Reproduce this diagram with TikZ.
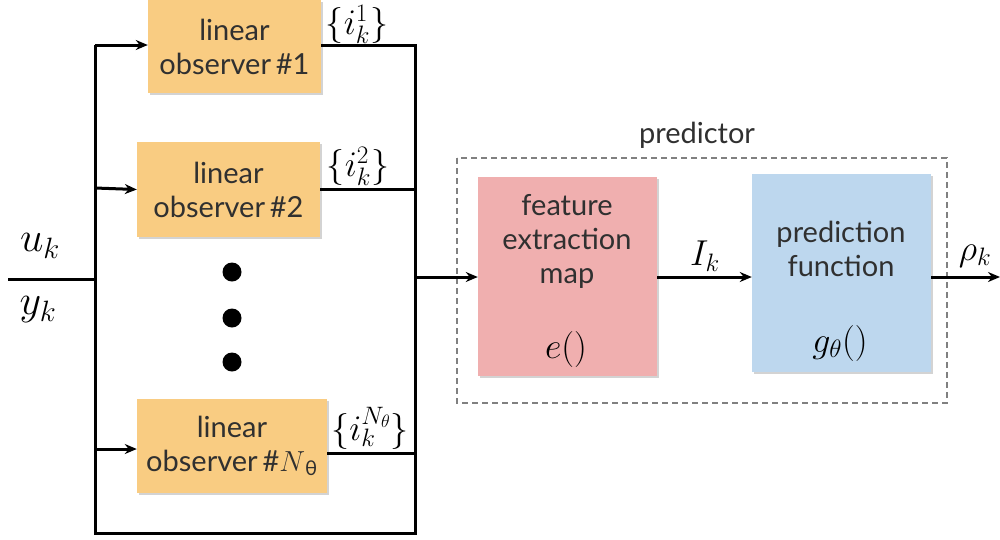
\documentclass[tikz,border=0pt]{standalone}
\usepackage{fix-cm}
\usepackage{fontspec}
\setmainfont{Lato}
\usetikzlibrary{arrows.meta,shadows}
\definecolor{obsfill}{HTML}{F9CC82}
\definecolor{featfill}{HTML}{F0AFAF}
\definecolor{predfill}{HTML}{BDD7EE}
\definecolor{txt}{HTML}{303030}
\begin{document}
\begin{tikzpicture}[x=1pt,y=-1pt,
  block/.style={draw=none,inner sep=0pt,drop shadow={opacity=0.35,shadow xshift=2pt,shadow yshift=-2pt}},
  btext/.style={text=txt,font=\fontsize{29}{34}\selectfont,align=center},
  mlabel/.style={font=\fontsize{36}{40}\selectfont,inner sep=0pt},
  biglabel/.style={font=\fontsize{42}{46}\selectfont},
  wire/.style={line width=3pt},
  arr/.style={line width=3pt,-{Stealth[length=12pt,width=10pt]}},
  dotc/.style={circle,fill=black,inner sep=0pt,minimum size=19pt}]
\useasboundingbox (0,0) rectangle (1000,539);
% observers
\node[block,fill=obsfill,minimum width=173pt,minimum height=93pt] (o1) at (234.5,46.5) {};
\node[block,fill=obsfill,minimum width=183pt,minimum height=95pt] (o2) at (228.5,189.5) {};
\node[block,fill=obsfill,minimum width=190pt,minimum height=94pt] (oN) at (232,446) {};
\node[btext] (t1) at (o1) {linear\\observer\,\#1};
\node[btext] (t2) at (o2) {linear\\observer\,\#2};
\node[btext] (tN) at (oN) {linear\\observer\,\#$N$\textsubscript{θ}};
% dots
\node[dotc] (d1) at (232,272) {};
\node[dotc] (d2) at (232,318) {};
\node[dotc] (d3) at (232,362) {};
% predictor
\node[block,fill=featfill,minimum width=179pt,minimum height=199pt] (fe) at (567.5,276.5) {};
\node[block,fill=predfill,minimum width=179pt,minimum height=198pt] (pf) at (841.5,273) {};
\node[btext] (fet) at (567,241) {feature\\extraction\\map};
\node[mlabel] (fem) at (566,349) {$e()$};
\node[btext] (pft) at (841,249) {prediction\\function};
\node[mlabel] (pfm) at (840,343) {$g_\theta()$};
\draw[gray,line width=1.5pt,dash pattern=on 6pt off 4pt] (457,158) rectangle (947,403);
\node[btext] (plab) at (697,135) {predictor};
% coordinates
\coordinate (in) at (8,279);
\coordinate (sp) at (95,279);
\coordinate (lt) at (95,45);
\coordinate (l2) at (95,188);
\coordinate (lN) at (95,449);
\coordinate (lb) at (95,533);
\coordinate (rb) at (415,533);
\coordinate (rt) at (415,45);
\coordinate (r2) at (415,189);
\coordinate (rN) at (415,453);
\coordinate (rm) at (415,277);
\coordinate (out) at (1000,277);
% wires
\draw[wire] (in) -- (sp);
\draw[wire] (lt) -- (lb) -- (rb) -- (rt) -- (o1.east |- rt);
\draw[arr] (lt) -- (o1.west |- lt);
\draw[arr] (l2) -- (o2.west);
\draw[arr] (lN) -- (oN.west |- lN);
\draw[wire] (o2.east |- r2) -- (r2);
\draw[wire] (oN.east |- rN) -- (rN);
\draw[arr] (rm) -- (fe.west |- rm);
\draw[arr] (fe.east |- rm) -- (pf.west |- rm);
\draw[arr] (pf.east |- rm) -- (out);
% labels
\node[biglabel] (uk) at (40,246) {$u_k$};
\node[biglabel] (yk) at (38,310) {$y_k$};
\node[mlabel] (i1) at (357,24) {$\{i_k^1\}$};
\node[mlabel] (i2) at (358,166) {$\{i_k^2\}$};
\node[mlabel] (iN) at (370,428) {$\{i_k^{N_\theta}\}$};
\node[mlabel] (Ik) at (705,256) {$I_k$};
\node[mlabel] (rk) at (975,256) {$\rho_k$};
\end{tikzpicture}
\end{document}
